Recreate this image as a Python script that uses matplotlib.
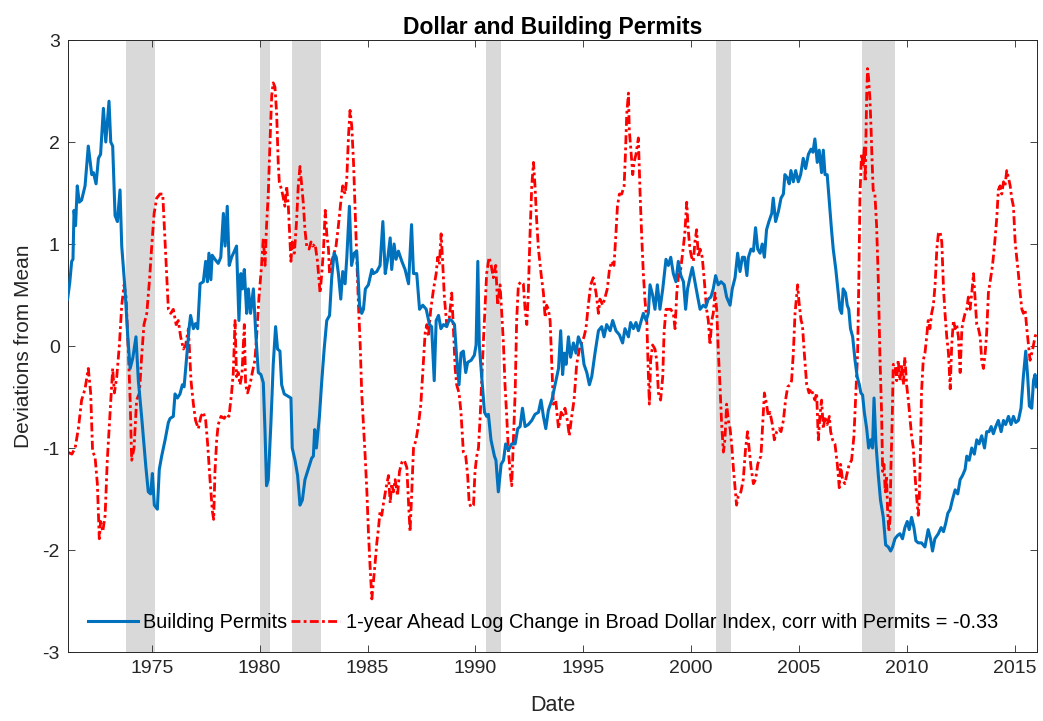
import matplotlib
matplotlib.use("Agg")
import matplotlib.pyplot as plt

plt.rcParams['font.family'] = ['Liberation Sans', 'DejaVu Sans']
plt.rcParams['axes.unicode_minus'] = False

# building permits (deviations from mean)
permit_year = [
    1971.10, 1971.20, 1971.29, 1971.35, 1971.40, 1971.47, 1971.55, 1971.64, 1971.75, 1971.91,
    1972.06, 1972.22, 1972.30, 1972.42, 1972.53, 1972.63, 1972.76, 1972.87, 1973.02, 1973.10,
    1973.19, 1973.30, 1973.41, 1973.53, 1973.61, 1973.76, 1973.89, 1974.00, 1974.12, 1974.27,
    1974.38, 1974.53, 1974.73, 1974.84, 1974.95, 1975.03, 1975.12, 1975.26, 1975.35, 1975.46,
    1975.62, 1975.77, 1975.85, 1976.00, 1976.08, 1976.19, 1976.31, 1976.42, 1976.50, 1976.62,
    1976.74, 1976.80, 1976.93, 1977.03, 1977.13, 1977.24, 1977.39, 1977.50, 1977.58, 1977.65,
    1977.74, 1977.80, 1977.93, 1978.08, 1978.20, 1978.32, 1978.40, 1978.50, 1978.59, 1978.70,
    1978.83, 1978.93, 1979.04, 1979.13, 1979.20, 1979.29, 1979.40, 1979.48, 1979.58, 1979.71,
    1979.83, 1979.94, 1980.06, 1980.17, 1980.25, 1980.32, 1980.40, 1980.52, 1980.63, 1980.74,
    1980.83, 1980.94, 1981.02, 1981.14, 1981.30, 1981.45, 1981.51, 1981.64, 1981.76, 1981.87,
    1981.98, 1982.10, 1982.22, 1982.33, 1982.41, 1982.49, 1982.55, 1982.63, 1982.77, 1982.88,
    1982.99, 1983.11, 1983.24, 1983.34, 1983.45, 1983.55, 1983.65, 1983.76, 1983.85, 1983.96,
    1984.04, 1984.16, 1984.26, 1984.38, 1984.50, 1984.63, 1984.73, 1984.81, 1984.90, 1985.04,
    1985.20, 1985.27, 1985.43, 1985.58, 1985.71, 1985.82, 1985.93, 1986.05, 1986.12, 1986.23,
    1986.32, 1986.43, 1986.59, 1986.74, 1986.90, 1986.97, 1987.04, 1987.13, 1987.28, 1987.41,
    1987.56, 1987.72, 1987.87, 1987.97, 1988.09, 1988.18, 1988.29, 1988.40, 1988.52, 1988.67,
    1988.78, 1988.90, 1989.03, 1989.13, 1989.24, 1989.33, 1989.44, 1989.55, 1989.64, 1989.80,
    1989.95, 1990.03, 1990.11, 1990.18, 1990.29, 1990.42, 1990.52, 1990.60, 1990.72, 1990.88,
    1990.95, 1991.06, 1991.19, 1991.30, 1991.40, 1991.53, 1991.68, 1991.84, 1991.96, 1992.07,
    1992.18, 1992.30, 1992.45, 1992.61, 1992.76, 1992.92, 1993.04, 1993.15, 1993.26, 1993.38,
    1993.54, 1993.69, 1993.85, 1993.95, 1994.04, 1994.12, 1994.20, 1994.31, 1994.41, 1994.54,
    1994.66, 1994.77, 1994.92, 1995.03, 1995.16, 1995.28, 1995.39, 1995.54, 1995.70, 1995.85,
    1995.96, 1996.08, 1996.24, 1996.36, 1996.51, 1996.67, 1996.82, 1996.93, 1997.09, 1997.19,
    1997.32, 1997.44, 1997.55, 1997.66, 1997.78, 1997.91, 1998.01, 1998.09, 1998.21, 1998.32,
    1998.43, 1998.55, 1998.68, 1998.83, 1998.94, 1999.05, 1999.17, 1999.29, 1999.40, 1999.52,
    1999.64, 1999.74, 1999.83, 1999.94, 2000.05, 2000.17, 2000.30, 2000.41, 2000.56, 2000.67,
    2000.79, 2000.91, 2001.02, 2001.13, 2001.25, 2001.38, 2001.53, 2001.64, 2001.80, 2001.90,
    2002.03, 2002.15, 2002.26, 2002.37, 2002.47, 2002.58, 2002.65, 2002.77, 2002.88, 2002.98,
    2003.08, 2003.19, 2003.29, 2003.39, 2003.49, 2003.60, 2003.73, 2003.80, 2003.91, 2004.04,
    2004.16, 2004.27, 2004.34, 2004.45, 2004.54, 2004.62, 2004.73, 2004.84, 2004.96, 2005.07,
    2005.19, 2005.30, 2005.43, 2005.55, 2005.64, 2005.73, 2005.84, 2005.93, 2006.04, 2006.12,
    2006.20, 2006.30, 2006.40, 2006.50, 2006.58, 2006.70, 2006.81, 2006.89, 2006.97, 2007.04,
    2007.15, 2007.23, 2007.30, 2007.38, 2007.48, 2007.59, 2007.69, 2007.79, 2007.86, 2007.94,
    2008.02, 2008.13, 2008.22, 2008.31, 2008.40, 2008.47, 2008.56, 2008.67, 2008.77, 2008.90,
    2009.01, 2009.13, 2009.24, 2009.33, 2009.44, 2009.55, 2009.67, 2009.79, 2009.90, 2010.01,
    2010.10, 2010.21, 2010.32, 2010.41, 2010.52, 2010.67, 2010.83, 2010.98, 2011.09, 2011.18,
    2011.29, 2011.45, 2011.58, 2011.69, 2011.79, 2011.89, 2012.00, 2012.10, 2012.23, 2012.35,
    2012.46, 2012.57, 2012.69, 2012.77, 2012.88, 2013.00, 2013.12, 2013.23, 2013.34, 2013.46,
    2013.59, 2013.69, 2013.80, 2013.90, 2014.00, 2014.11, 2014.23, 2014.36, 2014.47, 2014.57,
    2014.70, 2014.82, 2014.93, 2015.04, 2015.16, 2015.28, 2015.39, 2015.50, 2015.59, 2015.67,
    2015.78, 2015.86, 2015.93, 2016.00]
permits = [
    0.46, 0.62, 0.83, 0.85, 1.33, 1.18, 1.57, 1.41, 1.43, 1.57,
    1.96, 1.68, 1.70, 1.59, 1.84, 1.88, 2.33, 2.00, 2.40, 2.00,
    1.96, 1.28, 1.22, 1.53, 0.98, 0.56, 0.09, -0.22, -0.12, 0.09,
    -0.34, -0.69, -1.19, -1.43, -1.45, -1.25, -1.56, -1.60, -1.21, -1.08,
    -0.92, -0.75, -0.71, -0.69, -0.47, -0.51, -0.47, -0.38, -0.40, -0.10,
    0.19, 0.30, 0.17, 0.22, 0.17, 0.61, 0.63, 0.83, 0.63, 0.91,
    0.65, 0.89, 0.85, 0.81, 0.87, 1.30, 0.98, 1.37, 0.79, 0.87,
    0.93, 0.98, 0.25, 0.71, 0.56, 0.75, 0.32, 0.56, 0.32, 0.56,
    0.09, -0.26, -0.28, -0.36, -0.84, -1.37, -1.31, -0.77, -0.18, 0.19,
    -0.03, -0.05, -0.38, -0.47, -0.49, -0.51, -1.00, -1.12, -1.27, -1.56,
    -1.51, -1.31, -1.23, -1.16, -1.10, -1.08, -0.82, -1.00, -0.69, -0.34,
    -0.03, 0.25, 0.30, 0.67, 0.91, 0.87, 0.71, 0.46, 0.73, 0.61,
    0.87, 1.37, 0.79, 0.91, 0.93, 0.40, 0.32, 0.36, 0.56, 0.60,
    0.75, 0.71, 0.73, 0.79, 1.22, 0.71, 0.85, 1.06, 0.75, 1.00,
    0.85, 0.93, 0.83, 0.75, 0.61, 0.90, 1.19, 0.71, 0.71, 0.36,
    0.40, 0.36, 0.21, 0.19, -0.34, 0.25, 0.30, 0.17, 0.21, 0.19,
    0.26, 0.25, 0.21, -0.11, -0.38, -0.07, -0.05, -0.26, -0.16, -0.14,
    -0.09, 0.01, 0.83, 0.01, -0.30, -0.65, -0.69, -0.67, -0.92, -1.08,
    -1.12, -1.43, -1.16, -1.12, -0.96, -1.02, -0.96, -0.96, -0.81, -0.79,
    -0.61, -0.79, -0.77, -0.73, -0.67, -0.65, -0.53, -0.69, -0.81, -0.63,
    -0.53, -0.38, -0.22, 0.15, -0.28, -0.07, -0.18, 0.09, -0.11, 0.03,
    -0.07, 0.09, 0.01, -0.18, -0.26, -0.38, -0.30, -0.07, 0.15, 0.19,
    0.09, 0.21, 0.15, 0.25, 0.15, 0.11, 0.03, 0.17, 0.09, 0.23,
    0.17, 0.23, 0.15, 0.23, 0.32, 0.25, 0.32, 0.60, 0.50, 0.36,
    0.60, 0.36, 0.56, 0.85, 0.79, 0.87, 0.71, 0.63, 0.83, 0.69,
    0.63, 0.36, 0.56, 0.67, 0.77, 0.63, 0.48, 0.36, 0.40, 0.38,
    0.46, 0.48, 0.56, 0.69, 0.60, 0.63, 0.60, 0.48, 0.40, 0.56,
    0.67, 0.91, 0.73, 0.87, 0.87, 0.69, 0.87, 0.95, 0.93, 1.16,
    0.95, 0.91, 1.00, 0.87, 1.14, 1.22, 1.30, 1.45, 1.22, 1.32,
    1.45, 1.49, 1.68, 1.65, 1.59, 1.72, 1.61, 1.72, 1.61, 1.68,
    1.84, 1.74, 1.88, 1.93, 1.90, 2.03, 1.80, 1.92, 1.70, 1.92,
    1.68, 1.68, 1.41, 1.14, 0.95, 0.75, 0.52, 0.36, 0.32, 0.56,
    0.52, 0.40, 0.36, 0.17, 0.09, -0.14, -0.30, -0.38, -0.46, -0.48,
    -0.65, -0.81, -1.00, -0.92, -1.00, -0.51, -0.96, -1.27, -1.51, -1.68,
    -1.95, -1.97, -2.01, -1.97, -1.89, -1.86, -1.84, -1.89, -1.78, -1.72,
    -1.80, -1.68, -1.78, -1.91, -1.93, -1.93, -1.97, -1.80, -1.89, -2.01,
    -1.89, -1.84, -1.78, -1.82, -1.74, -1.64, -1.60, -1.51, -1.41, -1.45,
    -1.31, -1.27, -1.21, -1.08, -1.12, -1.00, -1.06, -0.92, -0.96, -0.88,
    -1.00, -0.84, -0.84, -0.79, -0.86, -0.79, -0.73, -0.84, -0.73, -0.77,
    -0.69, -0.77, -0.69, -0.75, -0.73, -0.61, -0.30, -0.05, -0.30, -0.59,
    -0.61, -0.34, -0.28, -0.40]

# 1-year ahead log change in broad dollar index, standardised
dollar_year = [
    1971.10, 1971.30, 1971.45, 1971.60, 1971.75, 1971.91, 1972.06, 1972.17, 1972.26, 1972.37,
    1972.48, 1972.57, 1972.63, 1972.73, 1972.84, 1972.94, 1973.07, 1973.19, 1973.27, 1973.38,
    1973.50, 1973.61, 1973.72, 1973.81, 1973.92, 1974.00, 1974.07, 1974.18, 1974.30, 1974.43,
    1974.53, 1974.64, 1974.77, 1974.89, 1975.00, 1975.11, 1975.23, 1975.38, 1975.51, 1975.58,
    1975.69, 1975.77, 1975.88, 1976.00, 1976.13, 1976.23, 1976.34, 1976.47, 1976.57, 1976.70,
    1976.82, 1976.93, 1977.03, 1977.16, 1977.28, 1977.39, 1977.50, 1977.59, 1977.70, 1977.81,
    1977.87, 1977.93, 1978.01, 1978.08, 1978.21, 1978.36, 1978.47, 1978.58, 1978.70, 1978.78,
    1978.86, 1978.93, 1979.01, 1979.09, 1979.18, 1979.29, 1979.35, 1979.44, 1979.55, 1979.66,
    1979.78, 1979.86, 1979.97, 1980.09, 1980.17, 1980.25, 1980.32, 1980.40, 1980.48, 1980.56,
    1980.63, 1980.71, 1980.79, 1980.86, 1980.91, 1981.02, 1981.10, 1981.17, 1981.25, 1981.33,
    1981.41, 1981.45, 1981.51, 1981.61, 1981.71, 1981.79, 1981.87, 1981.95, 1982.02, 1982.10,
    1982.18, 1982.29, 1982.38, 1982.46, 1982.57, 1982.68, 1982.80, 1982.88, 1982.96, 1983.04,
    1983.11, 1983.19, 1983.24, 1983.34, 1983.45, 1983.54, 1983.65, 1983.76, 1983.85, 1983.96,
    1984.04, 1984.12, 1984.19, 1984.27, 1984.35, 1984.43, 1984.50, 1984.58, 1984.66, 1984.73,
    1984.81, 1984.89, 1984.97, 1985.04, 1985.12, 1985.20, 1985.27, 1985.35, 1985.43, 1985.51,
    1985.58, 1985.66, 1985.74, 1985.86, 1985.97, 1986.05, 1986.12, 1986.20, 1986.28, 1986.39,
    1986.48, 1986.59, 1986.70, 1986.82, 1986.90, 1986.97, 1987.05, 1987.13, 1987.25, 1987.36,
    1987.47, 1987.59, 1987.67, 1987.75, 1987.82, 1987.93, 1988.06, 1988.18, 1988.25, 1988.33,
    1988.41, 1988.47, 1988.56, 1988.67, 1988.78, 1988.90, 1988.98, 1989.06, 1989.13, 1989.24,
    1989.33, 1989.44, 1989.55, 1989.64, 1989.71, 1989.80, 1989.91, 1989.98, 1990.06, 1990.14,
    1990.22, 1990.29, 1990.37, 1990.45, 1990.52, 1990.63, 1990.73, 1990.83, 1990.94, 1991.03,
    1991.14, 1991.22, 1991.30, 1991.37, 1991.45, 1991.53, 1991.61, 1991.68, 1991.76, 1991.84,
    1991.91, 1991.99, 1992.11, 1992.22, 1992.30, 1992.38, 1992.45, 1992.53, 1992.61, 1992.69,
    1992.76, 1992.84, 1992.92, 1993.04, 1993.15, 1993.23, 1993.30, 1993.38, 1993.46, 1993.54,
    1993.61, 1993.72, 1993.85, 1993.97, 1994.04, 1994.15, 1994.26, 1994.35, 1994.46, 1994.57,
    1994.69, 1994.82, 1994.92, 1995.03, 1995.12, 1995.23, 1995.34, 1995.46, 1995.59, 1995.70,
    1995.77, 1995.90, 1996.01, 1996.11, 1996.21, 1996.31, 1996.42, 1996.51, 1996.58, 1996.67,
    1996.78, 1996.89, 1996.95, 1997.01, 1997.09, 1997.13, 1997.19, 1997.29, 1997.35, 1997.44,
    1997.55, 1997.63, 1997.70, 1997.78, 1997.86, 1997.94, 1998.01, 1998.06, 1998.12, 1998.21,
    1998.32, 1998.40, 1998.48, 1998.58, 1998.68, 1998.74, 1998.83, 1998.94, 1999.05, 1999.17,
    1999.25, 1999.33, 1999.40, 1999.51, 1999.60, 1999.70, 1999.79, 1999.86, 1999.94, 2000.02,
    2000.10, 2000.17, 2000.25, 2000.33, 2000.41, 2000.51, 2000.61, 2000.71, 2000.79, 2000.87,
    2000.95, 2001.02, 2001.10, 2001.18, 2001.25, 2001.33, 2001.41, 2001.49, 2001.56, 2001.64,
    2001.72, 2001.80, 2001.87, 2001.95, 2002.03, 2002.10, 2002.18, 2002.30, 2002.41, 2002.52,
    2002.61, 2002.68, 2002.77, 2002.88, 2002.98, 2003.08, 2003.14, 2003.23, 2003.29, 2003.39,
    2003.49, 2003.57, 2003.65, 2003.76, 2003.85, 2003.96, 2004.07, 2004.16, 2004.27, 2004.37,
    2004.47, 2004.58, 2004.65, 2004.73, 2004.81, 2004.93, 2004.99, 2005.09, 2005.15, 2005.24,
    2005.35, 2005.46, 2005.55, 2005.62, 2005.73, 2005.81, 2005.89, 2005.96, 2006.04, 2006.12,
    2006.20, 2006.30, 2006.40, 2006.46, 2006.55, 2006.66, 2006.77, 2006.86, 2006.92, 2007.01,
    2007.12, 2007.20, 2007.32, 2007.43, 2007.54, 2007.63, 2007.71, 2007.77, 2007.82, 2007.89,
    2007.97, 2008.02, 2008.06, 2008.13, 2008.17, 2008.22, 2008.28, 2008.33, 2008.37, 2008.43,
    2008.51, 2008.59, 2008.67, 2008.74, 2008.82, 2008.87, 2008.93, 2008.99, 2009.05, 2009.10,
    2009.16, 2009.21, 2009.25, 2009.32, 2009.36, 2009.44, 2009.52, 2009.59, 2009.67, 2009.75,
    2009.83, 2009.90, 2009.98, 2010.06, 2010.13, 2010.21, 2010.29, 2010.37, 2010.44, 2010.52,
    2010.57, 2010.63, 2010.67, 2010.75, 2010.83, 2010.91, 2010.98, 2011.06, 2011.14, 2011.22,
    2011.30, 2011.38, 2011.45, 2011.53, 2011.61, 2011.69, 2011.76, 2011.84, 2011.92, 2012.00,
    2012.07, 2012.15, 2012.23, 2012.30, 2012.38, 2012.46, 2012.54, 2012.61, 2012.69, 2012.77,
    2012.84, 2012.92, 2013.00, 2013.08, 2013.15, 2013.23, 2013.31, 2013.39, 2013.46, 2013.54,
    2013.62, 2013.69, 2013.77, 2013.85, 2013.96, 2014.05, 2014.16, 2014.23, 2014.31, 2014.39,
    2014.47, 2014.54, 2014.62, 2014.70, 2014.78, 2014.85, 2014.93, 2015.01, 2015.08, 2015.16,
    2015.24, 2015.32, 2015.39, 2015.47, 2015.55, 2015.63, 2015.70, 2015.78, 2015.86, 2015.93,
    2016.00]
dollar = [
    -1.04, -1.06, -1.00, -0.81, -0.53, -0.42, -0.22, -0.46, -1.04, -1.08,
    -1.35, -1.89, -1.72, -1.82, -1.66, -1.12, -0.65, -0.22, -0.46, -0.30,
    0.01, 0.40, 0.60, 0.48, -0.07, -0.53, -1.12, -1.00, -0.53, -0.46,
    -0.11, 0.21, 0.32, 0.63, 0.98, 1.30, 1.45, 1.49, 1.49, 1.18,
    0.71, 0.36, 0.32, 0.36, 0.21, 0.25, 0.09, -0.03, 0.01, 0.17,
    -0.34, -0.57, -0.73, -0.81, -0.69, -0.65, -0.73, -0.96, -1.31, -1.62,
    -1.70, -1.23, -0.92, -0.77, -0.69, -0.71, -0.67, -0.69, -0.46, -0.26,
    0.25, -0.30, -0.26, -0.38, -0.28, 0.21, -0.38, -0.46, -0.38, -0.26,
    -0.14, 0.09, 0.48, 0.79, 1.06, 0.79, 1.18, 1.49, 2.00, 2.46,
    2.58, 2.54, 2.27, 1.80, 1.61, 1.53, 1.45, 1.37, 1.57, 1.37,
    1.02, 0.83, 1.02, 0.91, 1.22, 1.57, 1.76, 1.57, 1.41, 1.14,
    0.98, 0.95, 1.02, 0.98, 1.00, 0.83, 0.52, 0.71, 0.95, 1.33,
    1.10, 0.95, 0.71, 0.83, 0.91, 0.98, 1.18, 1.41, 1.57, 1.49,
    1.65, 2.07, 2.31, 2.15, 1.80, 1.30, 0.87, 0.40, 0.01, -0.46,
    -0.77, -1.08, -1.43, -1.82, -2.17, -2.48, -2.32, -2.13, -1.93, -1.78,
    -1.62, -1.66, -1.54, -1.39, -1.27, -1.54, -1.35, -1.43, -1.31, -1.47,
    -1.23, -1.14, -1.12, -1.19, -1.54, -1.82, -1.43, -1.00, -0.92, -0.77,
    -0.57, -0.14, 0.13, 0.21, 0.09, 0.36, 0.56, 0.71, 0.87, 0.80,
    1.10, 0.87, 0.48, 0.21, 0.25, 0.52, 0.17, -0.22, -0.38, -0.46,
    -0.65, -1.04, -1.08, -1.27, -1.54, -1.58, -1.56, -1.23, -1.08, -1.00,
    -0.69, -0.34, 0.05, 0.40, 0.71, 0.87, 0.79, 0.67, 0.79, 0.40,
    0.60, 0.32, 0.01, -0.38, -0.69, -1.04, -1.23, -1.37, -0.92, -0.46,
    0.25, 0.60, 0.63, 0.61, 0.36, 0.21, 0.52, 1.10, 1.57, 1.80,
    1.57, 1.22, 0.95, 0.71, 0.52, 0.28, 0.40, 0.36, 0.25, -0.18,
    -0.57, -0.53, -0.81, -0.65, -0.69, -0.61, -0.73, -0.88, -0.69, -0.53,
    -0.18, -0.03, 0.03, 0.09, 0.17, 0.40, 0.60, 0.67, 0.52, 0.32,
    0.46, 0.40, 0.48, 0.56, 0.75, 0.83, 0.79, 1.10, 1.37, 1.49,
    1.49, 1.57, 1.88, 2.27, 2.48, 2.11, 1.96, 1.68, 1.80, 1.88,
    2.04, 1.49, 1.10, 0.71, 0.44, 0.25, -0.26, -0.57, -0.14, 0.01,
    -0.03, -0.14, -0.46, -0.53, -0.30, 0.13, 0.36, 0.36, 0.36, 0.32,
    0.17, 0.52, 0.67, 0.75, 0.91, 1.10, 1.41, 1.14, 0.95, 0.87,
    0.83, 1.02, 1.14, 0.87, 0.95, 0.87, 0.63, 0.36, 0.25, 0.01,
    0.25, 0.32, 0.52, 0.36, -0.03, -0.38, -0.77, -1.04, -0.92, -0.57,
    -0.73, -0.81, -0.96, -1.19, -1.39, -1.56, -1.47, -1.43, -1.31, -1.00,
    -0.84, -1.00, -1.19, -1.35, -1.31, -1.16, -1.12, -1.08, -0.84, -0.46,
    -0.57, -0.69, -0.65, -0.77, -0.92, -0.84, -0.81, -0.84, -0.73, -0.53,
    -0.40, -0.38, -0.34, -0.07, 0.32, 0.60, 0.44, 0.25, 0.21, -0.07,
    -0.38, -0.46, -0.42, -0.46, -0.53, -0.46, -0.92, -0.69, -0.53, -0.81,
    -0.69, -0.77, -0.69, -0.84, -0.92, -0.96, -1.16, -1.39, -1.16, -1.31,
    -1.35, -1.27, -1.16, -1.12, -0.88, -0.46, -0.07, 0.71, 1.49, 1.88,
    1.76, 1.96, 1.61, 2.46, 2.72, 2.62, 2.42, 2.15, 1.88, 1.53,
    1.49, 1.18, 0.63, -0.07, -0.65, -1.23, -1.16, -1.43, -1.27, -1.62,
    -1.82, -1.70, -1.23, -0.65, -0.18, -0.18, -0.34, -0.14, -0.34, -0.18,
    -0.38, -0.11, -0.38, -0.53, -0.69, -0.88, -1.00, -1.27, -1.47, -1.66,
    -1.47, -0.96, -0.46, -0.14, -0.07, 0.09, 0.25, 0.17, 0.32, 0.40,
    0.60, 0.95, 1.10, 1.12, 1.02, 0.56, 0.32, 0.09, -0.07, -0.42,
    0.01, 0.25, 0.17, 0.21, 0.09, -0.26, 0.17, 0.25, 0.32, 0.36,
    0.48, 0.36, 0.52, 0.71, 0.48, 0.21, 0.17, 0.09, -0.14, -0.22,
    -0.07, 0.13, 0.52, 0.63, 0.79, 0.98, 1.26, 1.53, 1.57, 1.49,
    1.61, 1.57, 1.72, 1.65, 1.57, 1.45, 1.37, 1.02, 0.87, 0.71,
    0.52, 0.36, 0.32, 0.36, 0.17, 0.01, -0.14, -0.07, 0.01, 0.09,
    0.13]

# NBER recessions (start, end)
rec_start = [1973.83, 1980.00, 1981.50, 1990.50, 2001.17, 2007.92]
rec_end = [1975.17, 1980.50, 1982.83, 1991.17, 2001.83, 2009.42]

year_ticks = [1975, 1980, 1985, 1990, 1995, 2000, 2005, 2010, 2015]
dev_ticks = [-3, -2, -1, 0, 1, 2, 3]


def main():
    fig = plt.figure(figsize=(10.43, 7.21), dpi=100)
    ax = fig.add_axes([0.0652, 0.0957, 0.9290, 0.8488])

    for s, e in zip(rec_start, rec_end):
        ax.axvspan(s, e, color='#d9d9d9', lw=0, zorder=0)

    ax.plot(permit_year, permits, color='#0072BD', lw=2.2,
            label='Building Permits', zorder=3)
    ax.plot(dollar_year, dollar, color='#FF0000', lw=2.0,
            linestyle=(0, (3.2, 1.2, 1.0, 1.2)),
            label='1-year Ahead Log Change in Broad Dollar Index, corr with Permits = -0.33',
            zorder=2)

    ax.set_xlim(1971.12, 2016.02)
    ax.set_ylim(-3, 3)
    ax.set_xticks(year_ticks)
    ax.set_yticks(dev_ticks)
    ax.tick_params(direction='in', top=True, right=True, length=5, width=0.6,
                   labelsize=14, colors='#262626', pad=6)
    for sp in ax.spines.values():
        sp.set_color('#262626')
        sp.set_linewidth(0.7)

    ax.set_title('Dollar and Building Permits', fontsize=16.5, fontweight='bold', pad=4)
    ax.set_xlabel('Date', fontsize=15.5, color='#262626', labelpad=13)
    ax.set_ylabel('Deviations from Mean', fontsize=15, color='#262626', labelpad=7)

    ax.legend(loc='lower left', bbox_to_anchor=(0.0, 0.0), ncol=2, frameon=False,
              fontsize=14.3, handlelength=2.5, handletextpad=0.3, columnspacing=0.15,
              borderaxespad=0.6)

    fig.savefig('out.png', dpi=100)


if __name__ == "__main__":
    main()
